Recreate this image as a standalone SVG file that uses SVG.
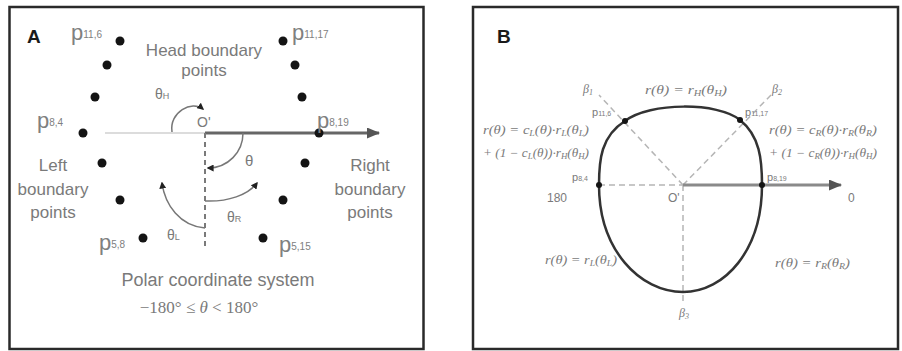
<svg xmlns="http://www.w3.org/2000/svg" width="902" height="351" viewBox="0 0 902 351">
<defs>
<style>
.frame{fill:#fff;stroke:#2a2a2a;stroke-width:2.5}
.lbl{font-family:"Liberation Sans",Arial,sans-serif;fill:#7a7a7a}
.big{font-size:17px}
.pl{font-family:"Liberation Sans",Arial,sans-serif;fill:#808080;font-size:22px}
.sub{font-size:10px}
.hd{font-family:"Liberation Sans",Arial,sans-serif;font-weight:bold;font-size:19px;fill:#1a1a1a}
.dot{fill:#141414}
.f{font-family:"Liberation Serif","Times New Roman",serif;font-style:italic;font-size:12px;fill:#7a7a7a}
.s{font-size:8px}
.thin{fill:none;stroke:#777;stroke-width:1.5}
.dash{fill:none;stroke:#7a7a7a;stroke-width:2;stroke-dasharray:5 4}
.ldash{fill:none;stroke:#b5b5b5;stroke-width:1.5;stroke-dasharray:6 4}
</style>
<marker id="ah" viewBox="0 0 10 10" refX="8" refY="5" markerWidth="7" markerHeight="7" orient="auto" markerUnits="userSpaceOnUse">
<path d="M0,0 L10,5 L0,10 Z" fill="#222"/>
</marker>
<marker id="big" viewBox="0 0 12 10" refX="11" refY="5" markerWidth="14" markerHeight="11" orient="auto" markerUnits="userSpaceOnUse">
<path d="M0,0 L12,5 L0,10 Z" fill="#555"/>
</marker>
</defs>

<rect class="frame" x="9.5" y="7" width="414" height="342"/>
<rect class="frame" x="473" y="7" width="425" height="342"/>

<!-- Panel A -->
<g id="panelA-title"><text class="hd" x="27" y="43">A</text></g>

<g id="connectors-A">
<line x1="105" y1="133" x2="205" y2="133" stroke="#dcdcdc" stroke-width="2"/>
<line x1="205" y1="133" x2="379" y2="133" stroke="#666" stroke-width="3" marker-end="url(#big)"/>
<line class="dash" x1="205" y1="133" x2="205" y2="246"/>
<path class="thin" d="M172,132 C169,112 192,100 203,109" marker-end="url(#ah)"/>
<path class="thin" d="M243,133 C243,152 228,168 208,168" marker-end="url(#ah)"/>
<path class="thin" d="M205,228 C180,226 165,205 162,183" marker-end="url(#ah)"/>
<path class="thin" d="M205,201 C228,202 248,195 257,183" marker-end="url(#ah)"/>
</g>

<g id="head-points">
<circle class="dot" cx="120" cy="41" r="4.5"/>
<circle class="dot" cx="283" cy="41" r="4.5"/>
<circle class="dot" cx="107" cy="65" r="4.5"/>
<circle class="dot" cx="295" cy="65" r="4.5"/>
<circle class="dot" cx="95" cy="97" r="4.5"/>
<circle class="dot" cx="302" cy="97" r="4.5"/>
<text class="lbl big" x="204" y="56" text-anchor="middle">Head boundary</text>
<text class="lbl big" x="204" y="76" text-anchor="middle">points</text>
<text class="pl" x="71" y="40">p<tspan class="sub" dy="-2">11,6</tspan></text>
<text class="pl" x="292" y="40">p<tspan class="sub" dy="-2">11,17</tspan></text>
</g>

<g id="left-points">
<circle class="dot" cx="83" cy="133" r="4.5"/>
<circle class="dot" cx="102" cy="163" r="4.5"/>
<circle class="dot" cx="120" cy="200" r="4.5"/>
<circle class="dot" cx="143" cy="238" r="4.5"/>
<text class="pl" x="37" y="128">p<tspan class="sub" dy="-2">8,4</tspan></text>
<text class="pl" x="99" y="250">p<tspan class="sub" dy="-2">5,8</tspan></text>
<text class="lbl big" x="53" y="171" text-anchor="middle">Left</text>
<text class="lbl big" x="53" y="195" text-anchor="middle">boundary</text>
<text class="lbl big" x="53" y="218" text-anchor="middle">points</text>
</g>

<g id="right-points">
<circle class="dot" cx="319" cy="133" r="4.5"/>
<circle class="dot" cx="305" cy="163" r="4.5"/>
<circle class="dot" cx="283" cy="200" r="4.5"/>
<circle class="dot" cx="263" cy="238" r="4.5"/>
<text class="pl" x="317" y="128">p<tspan class="sub" dy="-2">8,19</tspan></text>
<text class="pl" x="279" y="252">p<tspan class="sub" dy="-2">5,15</tspan></text>
<text class="lbl big" x="370" y="171" text-anchor="middle">Right</text>
<text class="lbl big" x="370" y="195" text-anchor="middle">boundary</text>
<text class="lbl big" x="370" y="218" text-anchor="middle">points</text>
</g>

<g id="angles-A">
<text class="lbl" font-size="14" x="197" y="127">O'</text>
<text class="lbl" font-size="14" x="155" y="99">θ<tspan font-size="9">H</tspan></text>
<text class="lbl" font-size="15" x="245" y="166">θ</text>
<text class="lbl" font-size="14" x="227" y="222">θ<tspan font-size="9">R</tspan></text>
<text class="lbl" font-size="14" x="167" y="240">θ<tspan font-size="9">L</tspan></text>
</g>

<g id="caption-A">
<text class="lbl" font-size="18" x="218" y="286" text-anchor="middle">Polar coordinate system</text>
<text x="199" y="313" text-anchor="middle" font-family="Liberation Serif,'Times New Roman',serif" font-size="17" fill="#7a7a7a">−180° ≤ <tspan font-style="italic">θ</tspan> &lt; 180°</text>
</g>

<!-- Panel B -->
<g id="panelB-title"><text class="hd" x="497" y="43">B</text></g>

<g id="connectors-B">
<line class="ldash" x1="599" y1="185" x2="683" y2="185"/>
<line class="ldash" x1="683" y1="185" x2="599" y2="95"/>
<line class="ldash" x1="683" y1="185" x2="771" y2="95"/>
<line class="ldash" x1="683" y1="185" x2="683" y2="304"/>
<line x1="683" y1="185" x2="841" y2="185" stroke="#8a8a8a" stroke-width="3" marker-end="url(#big)"/>
</g>

<g id="head-curve">
<path d="M599,185 C599,160 601,136 625,121 C650,102 718,102 740,120 C760,136 762,160 762,185 C762,250 725,292 683,292 C640,292 599,250 599,185 Z" fill="none" stroke="#333" stroke-width="2.5"/>
<circle class="dot" cx="625" cy="121" r="3"/>
<circle class="dot" cx="740" cy="120" r="3"/>
<circle class="dot" cx="599" cy="185" r="3"/>
<circle class="dot" cx="762" cy="185" r="3"/>
</g>

<g id="labels-B">
<text class="lbl" font-size="11" x="592" y="116">p<tspan font-size="7">11,6</tspan></text>
<text class="lbl" font-size="11" x="745" y="116">p<tspan font-size="7">11,17</tspan></text>
<text class="lbl" font-size="11" x="572" y="181">p<tspan font-size="7">8,4</tspan></text>
<text class="lbl" font-size="11" x="767" y="181">p<tspan font-size="7">8,19</tspan></text>
<text class="lbl" font-size="12" x="547" y="202">180</text>
<text class="lbl" font-size="12" x="668" y="202">O'</text>
<text class="lbl" font-size="12" x="848" y="202">0</text>
<text class="f" font-size="13" x="583" y="93">β<tspan class="s" dy="2">1</tspan></text>
<text class="f" font-size="13" x="772" y="93">β<tspan class="s" dy="2">2</tspan></text>
<text class="f" font-size="13" x="679" y="317">β<tspan class="s" dy="2">3</tspan></text>
</g>

<g id="formulas-B">
<text class="f" x="645" y="94" textLength="82" lengthAdjust="spacingAndGlyphs">r(θ) = r<tspan class="s" dy="2">H</tspan><tspan dy="-2">(θ</tspan><tspan class="s" dy="2">H</tspan><tspan dy="-2">)</tspan></text>
<text class="f" x="483" y="134" textLength="106" lengthAdjust="spacingAndGlyphs">r(θ) = c<tspan class="s" dy="2">L</tspan><tspan dy="-2">(θ)·r</tspan><tspan class="s" dy="2">L</tspan><tspan dy="-2">(θ</tspan><tspan class="s" dy="2">L</tspan><tspan dy="-2">)</tspan></text>
<text class="f" x="483" y="157" textLength="106" lengthAdjust="spacingAndGlyphs">+ (1 − c<tspan class="s" dy="2">L</tspan><tspan dy="-2">(θ))·r</tspan><tspan class="s" dy="2">H</tspan><tspan dy="-2">(θ</tspan><tspan class="s" dy="2">H</tspan><tspan dy="-2">)</tspan></text>
<text class="f" x="769" y="134" textLength="108" lengthAdjust="spacingAndGlyphs">r(θ) = c<tspan class="s" dy="2">R</tspan><tspan dy="-2">(θ)·r</tspan><tspan class="s" dy="2">R</tspan><tspan dy="-2">(θ</tspan><tspan class="s" dy="2">R</tspan><tspan dy="-2">)</tspan></text>
<text class="f" x="769" y="157" textLength="108" lengthAdjust="spacingAndGlyphs">+ (1 − c<tspan class="s" dy="2">R</tspan><tspan dy="-2">(θ))·r</tspan><tspan class="s" dy="2">H</tspan><tspan dy="-2">(θ</tspan><tspan class="s" dy="2">H</tspan><tspan dy="-2">)</tspan></text>
<text class="f" x="545" y="264" textLength="72" lengthAdjust="spacingAndGlyphs">r(θ) = r<tspan class="s" dy="2">L</tspan><tspan dy="-2">(θ</tspan><tspan class="s" dy="2">L</tspan><tspan dy="-2">)</tspan></text>
<text class="f" x="775" y="267" textLength="75" lengthAdjust="spacingAndGlyphs">r(θ) = r<tspan class="s" dy="2">R</tspan><tspan dy="-2">(θ</tspan><tspan class="s" dy="2">R</tspan><tspan dy="-2">)</tspan></text>
</g>
</svg>
